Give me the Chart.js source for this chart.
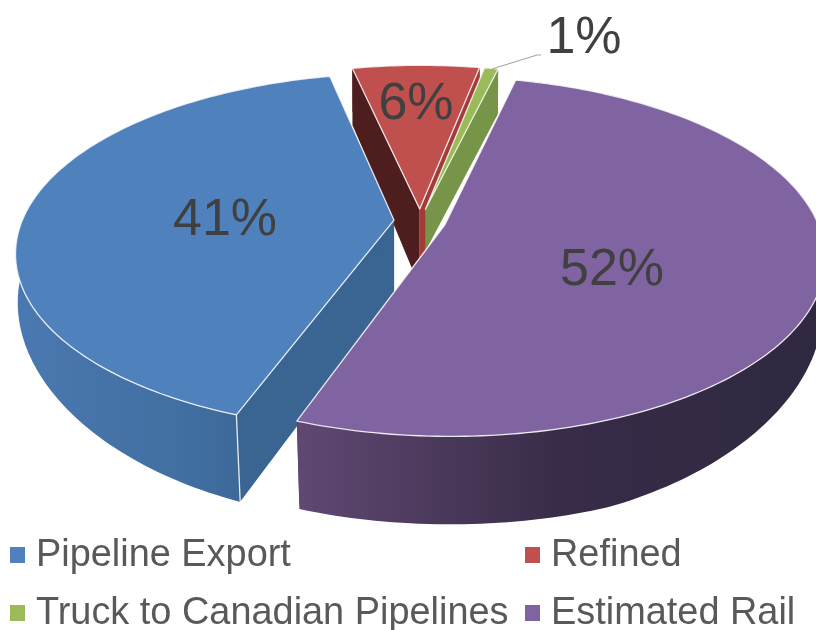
<!DOCTYPE html>
<html>
<head>
<meta charset="utf-8">
<style>
  html, body { margin: 0; padding: 0; background: #fff; }
  canvas { display: block; }
</style>
<script src="https://cdn.jsdelivr.net/npm/chart.js@4"></script>
</head>
<body>
<canvas id="pie" width="816" height="630"></canvas>
<script>
const categories = ['Pipeline Export', 'Refined', 'Truck to Canadian Pipelines', 'Estimated Rail'];
const shares = [41, 6.5, 0.7, 51.8];
const shareLabels = ['41%', '6%', '1%', '52%'];

const topColors = ['#4f81bd', '#c0504d', '#9bbb59', '#8064a2'];
const startWallColors = ['#3a6491', '#4d1e1d', '#6d8a40', '#5a4672'];
const endWallColors = ['#3a6491', '#a33b39', '#779548', '#5a4672'];
const outerWallStops = [
  ['#4a78b0', '#4270a3', '#36608c'],
  ['#4d1e1d', '#4d1e1d', '#4d1e1d'],
  ['#779548', '#779548', '#779548'],
  ['#604872', '#382c48', '#2f2840']
];
// how far each cut face drops below the top: [at the rim, at the apex]
const startWallDrop = [[87, 77], [57, 78], [43, 42], [45, 78]];
const endWallDrop = [[45, 77], [45, 55], [45, 42], [84, 78]];

// camera for the tilted pie
const view = { cx: 420, cy: 221, rx: 372, ry: 173, persp: 0.177, explode: 0.07 };

function project(u, v) {
  const w = 1 - view.persp * v;
  return [view.cx + view.rx * u / w, view.cy + view.ry * v / w];
}

// lower rim point, the wall gets taller and leans in towards the front
function projectLow(u, v) {
  const p = project(u, v);
  const lean = 0.002 + 0.02 * Math.max(v, 0);
  return [p[0] + (view.cx - p[0]) * lean, p[1] + Math.min(88, 48 + 24 * v + 19 * v * v)];
}

function tracePath(ctx, pts) {
  ctx.beginPath();
  pts.forEach((p, i) => i ? ctx.lineTo(p[0], p[1]) : ctx.moveTo(p[0], p[1]));
  ctx.closePath();
}

function fillPoly(ctx, pts, fill) {
  tracePath(ctx, pts);
  ctx.fillStyle = fill;
  ctx.fill();
}

const pie3d = {
  id: 'pie3d',
  // the arcs are laid out by Chart.js, only the painting is replaced
  beforeDatasetsDraw(chart) {
    const ctx = chart.ctx;
    const arcs = chart.getDatasetMeta(0).data;
    const order = [1, 2, 0, 3];

    order.forEach((i) => {
      const a0 = arcs[i].startAngle;
      const a1 = arcs[i].endAngle;
      const mid = (a0 + a1) / 2;
      const ou = Math.cos(mid) * view.explode;
      const ov = Math.sin(mid) * view.explode;

      const rim = [];
      const n = Math.max(4, Math.ceil((a1 - a0) / 0.02));
      for (let k = 0; k <= n; k++) {
        const a = a0 + (a1 - a0) * k / n;
        rim.push([ou + Math.cos(a), ov + Math.sin(a)]);
      }
      const topRim = rim.map((p) => project(p[0], p[1]));
      const lowRim = rim.map((p) => projectLow(p[0], p[1]));
      const apex = project(ou, ov);

      const xs = topRim.map((p) => p[0]);
      const grad = ctx.createLinearGradient(Math.min(...xs), 0, Math.max(...xs), 0);
      outerWallStops[i].forEach((c, k) => grad.addColorStop(k / 2, c));
      const outerWall = topRim.concat(lowRim.slice().reverse());

      const below = (p, d) => [p[0], p[1] + d];
      const startWall = [apex, topRim[0], [lowRim[0][0], topRim[0][1] + startWallDrop[i][0]], below(apex, startWallDrop[i][1])];
      const endWall = [apex, topRim[n], [lowRim[n][0], topRim[n][1] + endWallDrop[i][0]], below(apex, endWallDrop[i][1])];

      const rear = Math.sin(mid) < 0 && Math.abs(Math.cos(mid)) < 0.5;
      if (rear) fillPoly(ctx, outerWall, grad);
      fillPoly(ctx, startWall, startWallColors[i]);
      fillPoly(ctx, endWall, endWallColors[i]);
      if (!rear) fillPoly(ctx, outerWall, grad);

      fillPoly(ctx, [apex].concat(topRim), topColors[i]);
      tracePath(ctx, [apex].concat(topRim));
      ctx.strokeStyle = 'rgba(255,255,255,0.85)';
      ctx.lineWidth = 1.3;
      ctx.lineJoin = 'round';
      ctx.stroke();

      // seam where the blue cut meets its rim
      if (i === 0) {
        ctx.beginPath();
        ctx.moveTo(topRim[0][0], topRim[0][1]);
        ctx.lineTo(lowRim[0][0], lowRim[0][1]);
        ctx.stroke();
      }
    });
    return false;
  },
  afterDraw(chart) {
    const ctx = chart.ctx;
    ctx.save();

    // leader for the smallest slice
    ctx.strokeStyle = '#a6a6a6';
    ctx.lineWidth = 1.2;
    ctx.beginPath();
    ctx.moveTo(492, 69);
    ctx.lineTo(537, 55);
    ctx.lineTo(541, 55);
    ctx.stroke();

    // slice labels
    const labelAt = [[225, 235], [416, 119], [584, 53], [612, 285]];
    ctx.font = '52px "Liberation Sans"';
    ctx.fillStyle = '#404040';
    ctx.textAlign = 'center';
    ctx.textBaseline = 'alphabetic';
    shareLabels.forEach((t, i) => ctx.fillText(t, labelAt[i][0], labelAt[i][1]));

    // legend, two columns
    const legendX = [10, 525];
    const legendY = [566, 624];
    ctx.font = '37.9px "Liberation Sans"';
    ctx.textAlign = 'left';
    categories.forEach((name, i) => {
      const x = legendX[i % 2];
      const y = legendY[Math.floor(i / 2)];
      ctx.fillStyle = topColors[i];
      ctx.fillRect(x, y - 19, 15, 16);
      ctx.fillStyle = '#595959';
      ctx.fillText(name, x + 26, y);
    });
    ctx.restore();
  }
};

new Chart(document.getElementById('pie').getContext('2d'), {
  type: 'pie',
  data: {
    labels: categories,
    datasets: [{ data: shares, backgroundColor: topColors }]
  },
  options: {
    responsive: false,
    animation: false,
    rotation: 200,
    plugins: { legend: { display: false }, tooltip: { enabled: false } }
  },
  plugins: [pie3d]
});
</script>
</body>
</html>
